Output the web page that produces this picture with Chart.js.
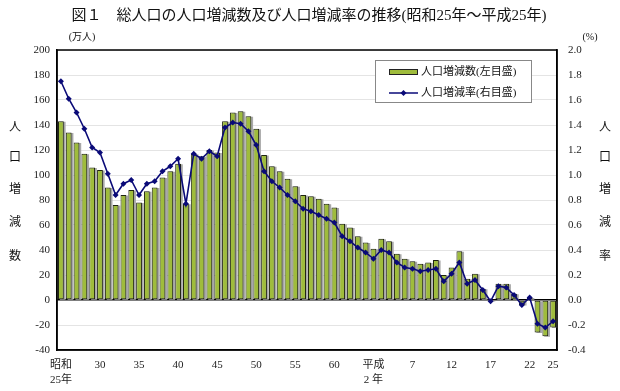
<!DOCTYPE html>
<html>
<head>
<meta charset="utf-8">
<script src="https://cdn.jsdelivr.net/npm/chart.js@4.4.0/dist/chart.umd.min.js"></script>
<style>
  html, body { margin: 0; padding: 0; background: #fff; }
  #wrap { width: 620px; height: 391px; position: relative; }
</style>
</head>
<body>
<div id="wrap"><canvas id="c" width="620" height="391"></canvas></div>
<script>
// 年次 (昭和25年 = 1950 〜 平成25年 = 2013)
const years = [
  1950, 1951, 1952, 1953, 1954, 1955, 1956, 1957, 1958, 1959,
  1960, 1961, 1962, 1963, 1964, 1965, 1966, 1967, 1968, 1969,
  1970, 1971, 1972, 1973, 1974, 1975, 1976, 1977, 1978, 1979,
  1980, 1981, 1982, 1983, 1984, 1985, 1986, 1987, 1988, 1989,
  1990, 1991, 1992, 1993, 1994, 1995, 1996, 1997, 1998, 1999,
  2000, 2001, 2002, 2003, 2004, 2005, 2006, 2007, 2008, 2009,
  2010, 2011, 2012, 2013
];

// 人口増減数 (万人)
const popChange = [
  143, 134, 126, 117, 106, 104, 90, 76, 84, 88,
  78, 87, 90, 98, 103, 109, 77, 117, 115, 120,
  118, 143, 150, 151, 147, 137, 116, 107, 103, 97,
  91, 84, 83, 81, 77, 74, 61, 58, 51, 46,
  41, 49, 47, 37, 33, 31, 29, 30, 32, 20,
  26, 39, 17, 21, 9, -1, 13, 13, 5, -4,
  2, -26, -29, -22
];

// 人口増減率 (%)
const popRate = [
  1.75, 1.61, 1.50, 1.37, 1.22, 1.18, 1.01, 0.84, 0.93, 0.96,
  0.84, 0.93, 0.95, 1.03, 1.07, 1.13, 0.77, 1.17, 1.13, 1.19,
  1.15, 1.38, 1.42, 1.41, 1.35, 1.24, 1.03, 0.95, 0.90, 0.84,
  0.79, 0.73, 0.71, 0.68, 0.65, 0.62, 0.51, 0.47, 0.42, 0.38,
  0.33, 0.40, 0.38, 0.30, 0.26, 0.25, 0.23, 0.24, 0.25, 0.15,
  0.21, 0.30, 0.13, 0.16, 0.08, -0.01, 0.11, 0.10, 0.04, -0.04,
  0.02, -0.19, -0.22, -0.17
];

// 横軸の目盛ラベル
const tickIdx = [0, 5, 10, 15, 20, 25, 30, 35, 40, 45, 50, 55, 60, 63];
const tickText = [['昭和', '25年'], '30', '35', '40', '45', '50', '55', '60',
  ['平成', '2 年'], '7', '12', '17', '22', '25'];

const FONT = '"Liberation Serif", "Noto Sans CJK JP", serif';
const BAR_COLOR = '#9fbc3c';
const LINE_COLOR = '#0a0a78';

// 棒の右側の灰色の影
const barShadow = {
  id: 'barShadow',
  beforeDatasetDraw(chart, args) {
    if (args.index !== 0) return;
    const ctx = chart.ctx;
    ctx.save();
    ctx.fillStyle = '#a8a8a8';
    args.meta.data.forEach(bar => {
      const top = Math.min(bar.y, bar.base);
      const h = Math.abs(bar.base - bar.y);
      ctx.fillRect(bar.x - bar.width / 2 + 1.8, top + 0.5, bar.width, h);
    });
    ctx.restore();
  }
};

// 枠・タイトル・単位・縦書きラベル・凡例
const decorations = {
  id: 'decorations',
  afterDatasetsDraw(chart) {
    const { ctx, chartArea: a } = chart;
    ctx.save();
    ctx.strokeStyle = '#000';
    ctx.lineWidth = 1.5;
    ctx.strokeRect(a.left, a.top, a.right - a.left, a.bottom - a.top);
    ctx.restore();
  },
  afterDraw(chart) {
    const ctx = chart.ctx;
    ctx.save();
    ctx.fillStyle = '#111';
    ctx.textBaseline = 'middle';

    ctx.font = '15px ' + FONT;
    ctx.textAlign = 'center';
    ctx.fillText('図１　総人口の人口増減数及び人口増減率の推移(昭和25年～平成25年)', 309, 16);

    ctx.font = '10px ' + FONT;
    ctx.fillText('(万人)', 82, 37);
    ctx.fillText('(%)', 590, 37);

    ctx.font = '12px ' + FONT;
    const leftChars = ['人', '口', '増', '減', '数'];
    const rightChars = ['人', '口', '増', '減', '率'];
    const ys = [128, 158, 190, 223, 257];
    leftChars.forEach((ch, i) => ctx.fillText(ch, 15, ys[i]));
    rightChars.forEach((ch, i) => ctx.fillText(ch, 605, ys[i]));

    // 凡例
    ctx.fillStyle = '#fff';
    ctx.fillRect(375, 60, 156, 42);
    ctx.strokeStyle = '#888';
    ctx.lineWidth = 1;
    ctx.strokeRect(375.5, 60.5, 156, 42);

    ctx.fillStyle = BAR_COLOR;
    ctx.fillRect(389, 69.5, 28, 5);
    ctx.strokeStyle = '#222';
    ctx.strokeRect(389.5, 69.5, 28, 5);

    ctx.strokeStyle = LINE_COLOR;
    ctx.lineWidth = 1.5;
    ctx.beginPath();
    ctx.moveTo(389, 93);
    ctx.lineTo(418, 93);
    ctx.stroke();
    ctx.fillStyle = LINE_COLOR;
    ctx.beginPath();
    ctx.moveTo(403.5, 90);
    ctx.lineTo(406.5, 93);
    ctx.lineTo(403.5, 96);
    ctx.lineTo(400.5, 93);
    ctx.closePath();
    ctx.fill();

    ctx.fillStyle = '#111';
    ctx.textAlign = 'left';
    ctx.font = '11px ' + FONT;
    ctx.fillText('人口増減数(左目盛)', 421, 72);
    ctx.fillText('人口増減率(右目盛)', 421, 93);
    ctx.restore();
  }
};

new Chart(document.getElementById('c'), {
  data: {
    labels: years,
    datasets: [
      {
        type: 'bar',
        label: '人口増減数(左目盛)',
        data: popChange,
        yAxisID: 'y',
        backgroundColor: BAR_COLOR,
        borderColor: '#1f2410',
        borderWidth: 1,
        borderSkipped: false,
        barPercentage: 0.74,
        categoryPercentage: 1.0,
        order: 2
      },
      {
        type: 'line',
        label: '人口増減率(右目盛)',
        data: popRate,
        yAxisID: 'y1',
        borderColor: LINE_COLOR,
        borderWidth: 1.6,
        backgroundColor: LINE_COLOR,
        pointStyle: 'rectRot',
        pointRadius: 3,
        pointBorderWidth: 0,
        tension: 0,
        order: 1
      }
    ]
  },
  options: {
    responsive: false,
    animation: false,
    devicePixelRatio: 1,
    layout: { padding: { top: 50, left: 0, right: 0, bottom: 0 } },
    plugins: {
      legend: { display: false },
      title: { display: false },
      tooltip: { enabled: false }
    },
    scales: {
      x: {
        offset: true,
        grid: { display: false, drawTicks: false },
        border: { display: true, color: '#000', width: 1.5 },
        ticks: {
          autoSkip: false,
          maxRotation: 0,
          padding: 7,
          color: '#222',
          font: { family: FONT, size: 11, lineHeight: 1.4 },
          callback: (v, i) => {
            const k = tickIdx.indexOf(i);
            return k < 0 ? '' : tickText[k];
          }
        },
        afterFit: s => { s.height = 41; }
      },
      y: {
        position: 'left',
        min: -40,
        max: 200,
        grid: {
          drawTicks: false,
          color: c => c.tick.value === 0 ? '#000' : '#e4e4e4',
          lineWidth: c => c.tick.value === 0 ? 1.5 : 1
        },
        border: { display: true, color: '#000', width: 1.5 },
        ticks: {
          stepSize: 20,
          padding: 7,
          color: '#222',
          font: { family: FONT, size: 11 }
        },
        afterFit: s => { s.width = 57; }
      },
      y1: {
        position: 'right',
        min: -0.4,
        max: 2.0,
        grid: { display: false, drawTicks: false },
        border: { display: true, color: '#000', width: 1.5 },
        ticks: {
          stepSize: 0.2,
          padding: 11,
          color: '#222',
          font: { family: FONT, size: 11 },
          callback: v => (Math.abs(v) < 1e-9 ? 0 : v).toFixed(1)
        },
        afterFit: s => { s.width = 63; }
      }
    }
  },
  plugins: [barShadow, decorations]
});
</script>
</body>
</html>
